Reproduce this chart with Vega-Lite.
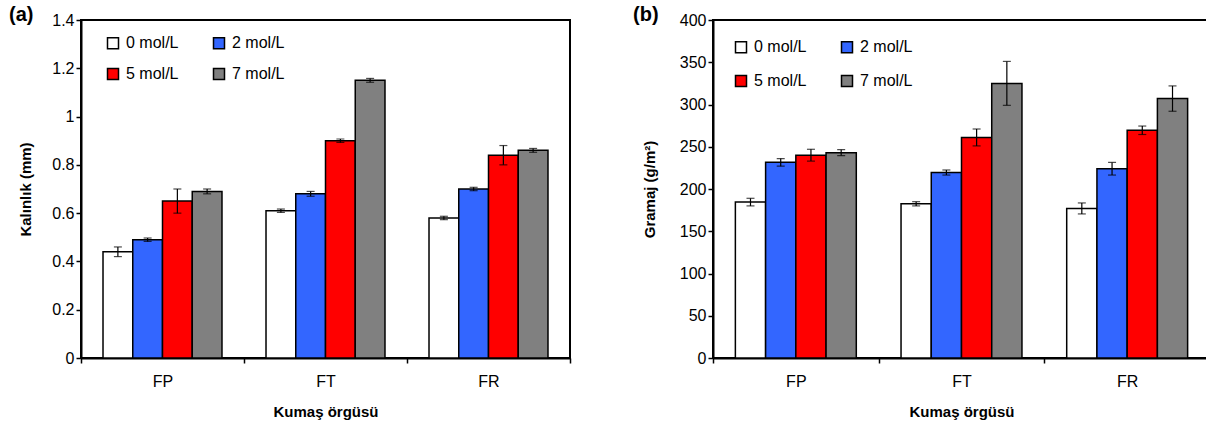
{
  "$schema": "https://vega.github.io/schema/vega-lite/v6.json",
  "padding": {"left": 8, "top": 4, "right": 0, "bottom": 0},
  "config": {
    "font": "Liberation Sans",
    "view": {"stroke": "black", "strokeWidth": 2},
    "axis": {"grid": false, "domainColor": "black", "domainWidth": 2, "tickColor": "black", "tickWidth": 1.5, "tickSize": 5, "labelFontSize": 16, "labelColor": "black", "titleFontSize": 15, "titleFontWeight": "bold", "titleColor": "black"},
    "legend": {"padding": 0}
  },
  "datasets": {
    "kal": [
      {"fabric": "FP", "conc": "0 mol/L", "value": 0.44, "lo": 0.42, "hi": 0.46},
      {"fabric": "FP", "conc": "2 mol/L", "value": 0.49, "lo": 0.483, "hi": 0.497},
      {"fabric": "FP", "conc": "5 mol/L", "value": 0.65, "lo": 0.60, "hi": 0.70},
      {"fabric": "FP", "conc": "7 mol/L", "value": 0.69, "lo": 0.68, "hi": 0.70},
      {"fabric": "FT", "conc": "0 mol/L", "value": 0.61, "lo": 0.603, "hi": 0.617},
      {"fabric": "FT", "conc": "2 mol/L", "value": 0.68, "lo": 0.67, "hi": 0.69},
      {"fabric": "FT", "conc": "5 mol/L", "value": 0.90, "lo": 0.893, "hi": 0.907},
      {"fabric": "FT", "conc": "7 mol/L", "value": 1.15, "lo": 1.142, "hi": 1.158},
      {"fabric": "FR", "conc": "0 mol/L", "value": 0.58, "lo": 0.573, "hi": 0.587},
      {"fabric": "FR", "conc": "2 mol/L", "value": 0.70, "lo": 0.693, "hi": 0.707},
      {"fabric": "FR", "conc": "5 mol/L", "value": 0.84, "lo": 0.80, "hi": 0.88},
      {"fabric": "FR", "conc": "7 mol/L", "value": 0.86, "lo": 0.852, "hi": 0.868}
    ],
    "gram": [
      {"fabric": "FP", "conc": "0 mol/L", "value": 184.5, "lo": 180, "hi": 189},
      {"fabric": "FP", "conc": "2 mol/L", "value": 231.6, "lo": 227, "hi": 236},
      {"fabric": "FP", "conc": "5 mol/L", "value": 240, "lo": 233, "hi": 247},
      {"fabric": "FP", "conc": "7 mol/L", "value": 243, "lo": 239.5, "hi": 246.5},
      {"fabric": "FT", "conc": "0 mol/L", "value": 182.5, "lo": 180, "hi": 185},
      {"fabric": "FT", "conc": "2 mol/L", "value": 219.5, "lo": 216.5, "hi": 222.5},
      {"fabric": "FT", "conc": "5 mol/L", "value": 261, "lo": 251, "hi": 271},
      {"fabric": "FT", "conc": "7 mol/L", "value": 325, "lo": 299, "hi": 351},
      {"fabric": "FR", "conc": "0 mol/L", "value": 177, "lo": 170.5, "hi": 183.5},
      {"fabric": "FR", "conc": "2 mol/L", "value": 224, "lo": 216.5, "hi": 231.5},
      {"fabric": "FR", "conc": "5 mol/L", "value": 269.5, "lo": 264.5, "hi": 274.5},
      {"fabric": "FR", "conc": "7 mol/L", "value": 307, "lo": 292, "hi": 322}
    ]
  },
  "spacing": 60,
  "resolve": {"scale": {"x": "independent", "y": "independent", "xOffset": "independent"}, "legend": {"color": "independent"}},
  "hconcat": [
    {
      "title": {"text": "(a)", "anchor": "start", "frame": "group", "fontSize": 20, "fontWeight": "bold", "color": "black", "dx": -72, "dy": 29, "offset": 0, "baseline": "alphabetic"},
      "width": 489,
      "height": 338,
      "data": {"name": "kal"},
      "encoding": {
        "x": {"field": "fabric", "type": "nominal", "sort": ["FP", "FT", "FR"], "scale": {"paddingInner": 0, "paddingOuter": 0}, "axis": {"title": "Kumaş örgüsü", "labelAngle": 0, "tickBand": "extent", "labelPadding": 10, "titlePadding": 15}},
        "xOffset": {"field": "conc", "type": "nominal", "sort": ["0 mol/L", "2 mol/L", "5 mol/L", "7 mol/L"], "scale": {"paddingInner": 0, "paddingOuter": 0.74}}
      },
      "layer": [
        {
          "mark": {"type": "bar", "stroke": "black", "strokeWidth": 1.5},
          "encoding": {
            "y": {"field": "value", "type": "quantitative", "title": "Kalınlık (mm)", "scale": {"domain": [0, 1.4]}, "axis": {"values": [0, 0.2, 0.4, 0.6, 0.8, 1, 1.2, 1.4], "format": "~g", "titlePadding": 18}},
            "color": {"field": "conc", "type": "nominal", "sort": ["0 mol/L", "2 mol/L", "5 mol/L", "7 mol/L"], "scale": {"domain": ["0 mol/L", "2 mol/L", "5 mol/L", "7 mol/L"], "range": ["#FFFFFF", "#3366FF", "#FF0000", "#808080"]},
              "legend": {"title": null, "orient": "none", "legendX": 24, "legendY": 15, "columns": 2, "direction": "horizontal", "symbolType": "square", "symbolSize": 121, "symbolStrokeColor": "black", "symbolStrokeWidth": 1.5, "symbolOpacity": 1, "labelFontSize": 16, "labelColor": "black", "labelOffset": 5, "columnPadding": 31, "rowPadding": 13}}
          }
        },
        {
          "mark": {"type": "rule", "color": "black", "strokeWidth": 1.2},
          "encoding": {"y": {"field": "lo", "type": "quantitative", "title": "Kalınlık (mm)"}, "y2": {"field": "hi"}}
        },
        {
          "mark": {"type": "tick", "color": "black", "size": 8, "thickness": 1.2},
          "encoding": {"y": {"field": "lo", "type": "quantitative", "title": "Kalınlık (mm)"}}
        },
        {
          "mark": {"type": "tick", "color": "black", "size": 8, "thickness": 1.2},
          "encoding": {"y": {"field": "hi", "type": "quantitative", "title": "Kalınlık (mm)"}}
        }
      ]
    },
    {
      "title": {"text": "(b)", "anchor": "start", "frame": "group", "fontSize": 20, "fontWeight": "bold", "color": "black", "dx": -80, "dy": 29, "offset": 0, "baseline": "alphabetic"},
      "width": 497,
      "height": 338,
      "data": {"name": "gram"},
      "encoding": {
        "x": {"field": "fabric", "type": "nominal", "sort": ["FP", "FT", "FR"], "scale": {"paddingInner": 0, "paddingOuter": 0}, "axis": {"title": "Kumaş örgüsü", "labelAngle": 0, "tickBand": "extent", "labelPadding": 10, "titlePadding": 15}},
        "xOffset": {"field": "conc", "type": "nominal", "sort": ["0 mol/L", "2 mol/L", "5 mol/L", "7 mol/L"], "scale": {"paddingInner": 0, "paddingOuter": 0.74}}
      },
      "layer": [
        {
          "mark": {"type": "bar", "stroke": "black", "strokeWidth": 1.5},
          "encoding": {
            "y": {"field": "value", "type": "quantitative", "title": "Gramaj (g/m²)", "scale": {"domain": [0, 400]}, "axis": {"values": [0, 50, 100, 150, 200, 250, 300, 350, 400], "titlePadding": 22}},
            "color": {"field": "conc", "type": "nominal", "sort": ["0 mol/L", "2 mol/L", "5 mol/L", "7 mol/L"], "scale": {"domain": ["0 mol/L", "2 mol/L", "5 mol/L", "7 mol/L"], "range": ["#FFFFFF", "#3366FF", "#FF0000", "#808080"]},
              "legend": {"title": null, "orient": "none", "legendX": 20, "legendY": 19, "columns": 2, "direction": "horizontal", "symbolType": "square", "symbolSize": 121, "symbolStrokeColor": "black", "symbolStrokeWidth": 1.5, "symbolOpacity": 1, "labelFontSize": 16, "labelColor": "black", "labelOffset": 5, "columnPadding": 31, "rowPadding": 16}}
          }
        },
        {
          "mark": {"type": "rule", "color": "black", "strokeWidth": 1.2},
          "encoding": {"y": {"field": "lo", "type": "quantitative", "title": "Gramaj (g/m²)"}, "y2": {"field": "hi"}}
        },
        {
          "mark": {"type": "tick", "color": "black", "size": 8, "thickness": 1.2},
          "encoding": {"y": {"field": "lo", "type": "quantitative", "title": "Gramaj (g/m²)"}}
        },
        {
          "mark": {"type": "tick", "color": "black", "size": 8, "thickness": 1.2},
          "encoding": {"y": {"field": "hi", "type": "quantitative", "title": "Gramaj (g/m²)"}}
        }
      ]
    }
  ]
}
